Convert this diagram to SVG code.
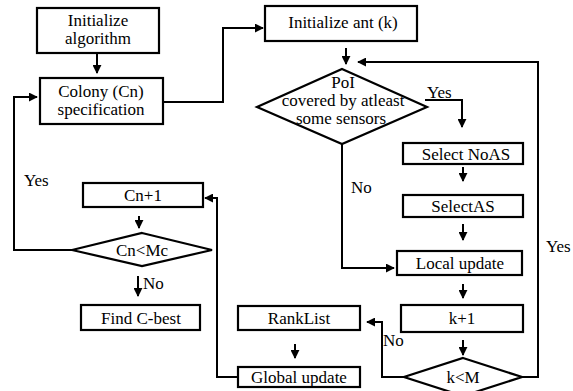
<svg xmlns="http://www.w3.org/2000/svg" width="573" height="391" viewBox="0 0 573 391">
<defs>
<marker id="ah" viewBox="0 0 10 10" refX="9" refY="5" markerWidth="4.5" markerHeight="4.5" orient="auto" markerUnits="strokeWidth">
<path d="M0,0 L10,5 L0,10 z" fill="#000"/>
</marker>
<style>
.box{fill:#fff;stroke:#000;stroke-width:2.2}
.c{fill:none;stroke:#000;stroke-width:2}
</style>
</defs>
<rect width="573" height="391" fill="#fff"/>
<g id="connectors">
<path class="c" d="M97,54 V73" marker-end="url(#ah)"/>
<path class="c" d="M163,102 H223 V28 H263" marker-end="url(#ah)"/>
<path class="c" d="M346,48 V64" marker-end="url(#ah)"/>
<path class="c" d="M522,377 H538 V62 H358" marker-end="url(#ah)"/>
<path class="c" d="M425,100 H462 V127" marker-end="url(#ah)"/>
<path class="c" d="M463,167 V181" marker-end="url(#ah)"/>
<path class="c" d="M463,224 V240" marker-end="url(#ah)"/>
<path class="c" d="M342,144 V268 H394" marker-end="url(#ah)"/>
<path class="c" d="M463,284 V298" marker-end="url(#ah)"/>
<path class="c" d="M463,340 V355" marker-end="url(#ah)"/>
<path class="c" d="M405,377 H382 V322 H367" marker-end="url(#ah)"/>
<path class="c" d="M295,344 V358" marker-end="url(#ah)"/>
<path class="c" d="M238,377 H217 V198 H205" marker-end="url(#ah)"/>
<path class="c" d="M139,216 V228" marker-end="url(#ah)"/>
<path class="c" d="M72,250 H14 V97 H37" marker-end="url(#ah)"/>
<path class="c" d="M138,276 V296" marker-end="url(#ah)"/>
<text x="427" y="98" font-family="Liberation Serif" font-size="17">Yes</text>
<text x="351" y="193" font-family="Liberation Serif" font-size="17">No</text>
<text x="546" y="252" font-family="Liberation Serif" font-size="17">Yes</text>
<text x="383" y="346" font-family="Liberation Serif" font-size="17">No</text>
<text x="24" y="186" font-family="Liberation Serif" font-size="17">Yes</text>
<text x="143" y="289" font-family="Liberation Serif" font-size="17">No</text>
</g>
<g id="init-alg"><rect class="box" x="37" y="8" width="122" height="45"/><text x="98" y="26" font-family="Liberation Serif" font-size="17" text-anchor="middle">Initialize</text><text x="98" y="44" font-family="Liberation Serif" font-size="17" text-anchor="middle">algorithm</text></g>
<g id="colony"><rect class="box" x="40" y="78" width="123" height="46"/><text x="101" y="97" font-family="Liberation Serif" font-size="17" text-anchor="middle">Colony (Cn)</text><text x="101" y="115" font-family="Liberation Serif" font-size="17" text-anchor="middle">specification</text></g>
<g id="init-ant"><rect class="box" x="265" y="6" width="152" height="35"/><text x="343" y="28" font-family="Liberation Serif" font-size="17" text-anchor="middle">Initialize ant (k)</text></g>
<g id="poi"><polygon class="box" points="342,69 427,107 342,144 257,107"/><text x="343" y="88" font-family="Liberation Serif" font-size="17" text-anchor="middle">PoI</text><text x="343" y="106" font-family="Liberation Serif" font-size="17" text-anchor="middle">covered by atleast</text><text x="341" y="124" font-family="Liberation Serif" font-size="17" text-anchor="middle">some sensors</text></g>
<g id="noas"><rect class="box" x="403" y="143" width="120" height="21"/><text x="466" y="160" font-family="Liberation Serif" font-size="17" text-anchor="middle">Select NoAS</text></g>
<g id="selectas"><rect class="box" x="403" y="195" width="120" height="22"/><text x="463" y="212" font-family="Liberation Serif" font-size="17" text-anchor="middle">SelectAS</text></g>
<g id="local"><rect class="box" x="397" y="251" width="125" height="24"/><text x="460" y="269" font-family="Liberation Serif" font-size="17" text-anchor="middle">Local update</text></g>
<g id="k1"><rect class="box" x="401" y="305" width="122" height="27"/><text x="462" y="324" font-family="Liberation Serif" font-size="17" text-anchor="middle">k+1</text></g>
<g id="kM"><polygon class="box" points="463,358 522,377 463,396 404,377"/><text x="463" y="383" font-family="Liberation Serif" font-size="17" text-anchor="middle">k&lt;M</text></g>
<g id="ranklist"><rect class="box" x="238" y="306" width="122" height="24"/><text x="299" y="324" font-family="Liberation Serif" font-size="17" text-anchor="middle">RankList</text></g>
<g id="global"><rect class="box" x="238" y="367" width="122" height="20"/><text x="299" y="383" font-family="Liberation Serif" font-size="17" text-anchor="middle">Global update</text></g>
<g id="cn1"><rect class="box" x="83" y="183" width="120" height="24"/><text x="143" y="201" font-family="Liberation Serif" font-size="17" text-anchor="middle">Cn+1</text></g>
<g id="cnmc"><polygon class="box" points="142,233 212,250 142,266 72,250"/><text x="142" y="256" font-family="Liberation Serif" font-size="17" text-anchor="middle">Cn&lt;Mc</text></g>
<g id="cbest"><rect class="box" x="81" y="305" width="119" height="25"/><text x="141" y="324" font-family="Liberation Serif" font-size="17" text-anchor="middle">Find C-best</text></g>
</svg>
